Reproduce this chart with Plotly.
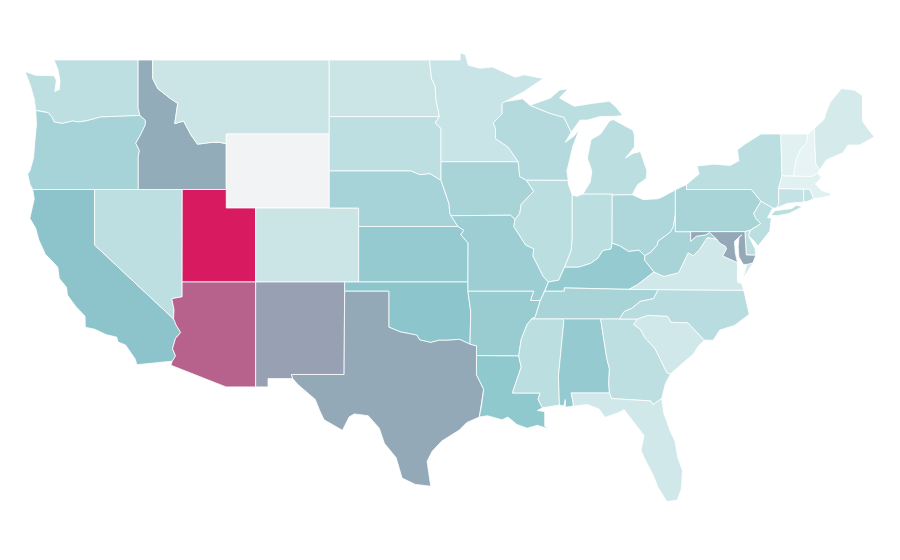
import plotly.graph_objects as go
from plotly.colors import sample_colorscale

states = ["WA","OR","CA","NV","ID","MT","WY","UT","CO","AZ","NM","ND","SD","NE","KS","OK","TX","MN","IA","MO",
          "AR","LA","WI","IL","IN","MI","OH","KY","TN","MS","AL","GA","FL","SC","NC","VA","WV","PA","NY","NJ",
          "DE","MD","CT","RI","MA","VT","NH","ME"]
values = [14,22,32,14,48,10,None,100,10,75,53,10,14,22,27,30,50,11,21,25,
          26,29,17,15,15,15,19,27,21,15,27,14,8,8,16,8,21,21,15,15,
          14,50,12,12,3,3,1,7]
missing_color = "#f2f3f5"

colorscale = [[0, "#eaf5f5"], [0.3, "#8cc6cc"], [0.5, "#94a9b8"], [1, "#d81b60"]]

# shared borders, lon/lat, estimated by hand
columbia = [(-124.0,46.27),(-123.4,46.2),(-123.15,46.15),(-122.9,45.9),(-122.75,45.65),(-122.2,45.57),(-121.5,45.7),(-121.1,45.65),(-120.5,45.72),(-119.6,45.92),(-119.0,45.93),(-116.92,46.0)]
snake = [(-116.92,46.0),(-116.55,45.75),(-116.55,45.5),(-116.85,45.0),(-117.2,44.5),(-116.95,44.1),(-117.03,43.8),(-117.03,42.0)]
colorado = [(-114.72,32.72),(-114.5,33.0),(-114.7,33.4),(-114.5,33.95),(-114.15,34.27),(-114.44,34.65),(-114.63,35.0)]
id_mt = [(-111.05,44.47),(-111.5,44.55),(-112.0,44.55),(-113.0,44.45),(-113.45,44.95),(-113.95,45.7),(-114.55,45.56),(-114.35,46.65),(-114.9,46.95),(-115.7,47.45),(-116.05,48.0),(-116.05,49.0)]
red_river = [(-94.48,33.64),(-95.2,33.9),(-96.0,33.85),(-96.6,33.85),(-97.15,33.73),(-97.9,33.87),(-98.1,34.13),(-99.2,34.3),(-100.0,34.56)]
tx_la = [(-93.85,29.7),(-93.7,30.3),(-93.55,31.2),(-94.04,31.99),(-94.04,33.02)]
ne_north = [(-104.05,43.0),(-98.5,43.0),(-97.9,42.8),(-97.2,42.85),(-96.45,42.49)]
mo_river_ne = [(-96.45,42.49),(-96.1,41.7),(-95.9,41.2),(-95.85,40.7),(-95.77,40.58)]
mo_river_ks = [(-95.77,40.58),(-95.3,40.0),(-94.9,39.8),(-95.1,39.55),(-94.61,39.11)]
mn_wi = [(-92.1,46.75),(-92.3,46.66),(-92.29,46.1),(-92.9,45.6),(-92.75,45.3),(-92.75,44.75),(-91.9,44.3),(-91.2,43.5)]
ia_east = [(-91.2,43.5),(-91.1,42.7),(-90.65,42.5),(-90.15,41.9),(-91.0,41.2),(-91.1,40.7),(-91.42,40.38)]
mo_east = [(-91.42,40.38),(-91.5,40.0),(-90.7,39.0),(-90.15,38.8),(-90.2,38.4),(-89.5,37.3),(-89.15,37.0)]
boot = [(-89.15,37.0),(-89.4,36.5),(-89.7,36.0)]
ar_ms = [(-90.05,35.1),(-90.3,35.0),(-90.6,34.7),(-91.0,33.9),(-91.17,33.0)]
ms_la = [(-91.17,33.0),(-91.0,32.4),(-91.6,31.0),(-89.73,31.0),(-89.85,30.65),(-89.55,30.2)]
ms_al = [(-88.1,34.9),(-88.47,31.9),(-88.4,30.35)]
al_ga = [(-85.6,35.0),(-85.18,32.87),(-85.0,32.3),(-85.05,31.55),(-85.0,31.0)]
fl_north = [(-85.0,31.0),(-84.86,30.7),(-82.2,30.57),(-82.05,30.37),(-81.45,30.7)]
ga_sc = [(-83.1,35.0),(-83.35,34.7),(-82.9,34.45),(-82.55,33.95),(-81.9,33.4),(-81.4,32.6),(-81.1,32.1),(-80.85,32.03)]
sc_nc = [(-83.1,35.0),(-82.4,35.2),(-81.05,35.15),(-80.8,34.82),(-79.67,34.8),(-78.55,33.86)]
tn_nc = [(-84.32,35.0),(-84.0,35.4),(-83.5,35.57),(-82.9,35.95),(-82.0,36.1),(-81.68,36.59)]
ky_va = [(-83.68,36.6),(-83.1,36.85),(-81.97,37.54)]
ky_wv = [(-81.97,37.54),(-82.6,38.17),(-82.6,38.42)]
ohio_ky = [(-82.6,38.42),(-83.0,38.72),(-83.7,38.65),(-84.3,38.95),(-84.82,39.1)]
ohio_in = [(-84.82,39.1),(-84.9,38.78),(-85.45,38.7),(-85.8,38.27),(-86.3,38.0),(-87.1,37.8),(-88.05,37.8)]
ohio_il = [(-88.05,37.8),(-88.45,37.1),(-89.15,37.0)]
wabash = [(-87.53,41.7),(-87.53,39.35),(-87.6,38.7),(-87.95,38.0),(-88.05,37.8)]
ohio_wv = [(-82.6,38.42),(-82.2,38.6),(-81.75,39.0),(-81.7,39.2),(-80.85,39.7),(-80.65,40.0),(-80.52,40.64)]
va_wv = [(-81.97,37.54),(-81.3,37.3),(-80.3,37.5),(-79.65,38.58),(-79.3,38.42),(-78.87,38.77),(-78.35,39.4),(-77.72,39.32)]
md_wv = [(-77.72,39.32),(-78.2,39.68),(-78.45,39.55),(-79.1,39.47),(-79.48,39.2),(-79.48,39.72)]
potomac = [(-76.3,38.05),(-77.0,38.3),(-77.3,38.4),(-77.04,38.79),(-77.12,38.93),(-77.5,39.1),(-77.72,39.32)]
delaware = [(-75.55,39.5),(-75.42,39.8),(-75.1,39.95),(-74.72,40.15),(-75.05,40.45),(-75.2,40.7),(-74.7,41.36)]
ct_ny = [(-73.66,41.0),(-73.49,41.2),(-73.5,42.05)]
vt_nh = [(-71.5,45.0),(-71.6,44.5),(-72.05,44.1),(-72.3,43.6),(-72.45,43.0),(-72.46,42.73)]
nh_me = [(-71.08,45.3),(-70.98,43.4),(-70.7,43.07)]

def rev(line):
    return line[::-1]

outlines = {
    "WA": [[(-122.76,49.0),(-117.04,49.0),(-117.04,46.42),(-116.92,46.0)] + rev(columbia) + [(-124.1,46.9),(-124.4,47.7),(-124.73,48.38),(-124.0,48.17),(-123.3,48.15),(-122.75,48.15),(-122.6,47.9),(-122.7,47.3),(-122.4,47.4),(-122.35,47.9),(-122.5,48.5)]],
    "OR": [columbia + snake[1:] + [(-124.21,42.0),(-124.4,42.3),(-124.55,42.84),(-124.4,43.0),(-124.15,43.7),(-124.05,44.7),(-123.95,45.5)]],
    "CA": [[(-124.21,42.0),(-120.0,42.0),(-120.0,39.0),(-114.63,35.0)] + rev(colorado) + [(-117.12,32.53),(-117.25,32.85),(-117.9,33.6),(-118.4,33.75),(-118.5,34.02),(-119.2,34.15),(-120.0,34.45),(-120.63,34.55),(-120.65,35.15),(-121.3,35.7),(-121.85,36.3),(-121.9,36.7),(-122.4,37.2),(-122.5,37.8),(-122.97,38.2),(-123.35,38.5),(-123.8,39.3),(-124.0,39.9),(-124.4,40.44),(-124.1,41.5)]],
    "NV": [[(-120.0,42.0),(-114.04,42.0),(-114.05,37.0),(-114.05,36.2),(-114.75,36.1),(-114.6,35.5),(-114.63,35.0),(-120.0,39.0)]],
    "ID": [[(-117.04,49.0),(-116.05,49.0)] + rev(id_mt)[1:] + [(-111.05,42.0),(-117.03,42.0)] + rev(snake)[1:] + [(-117.04,46.42)]],
    "MT": [[(-116.05,49.0),(-104.05,49.0),(-104.05,45.0),(-111.05,45.0)] + id_mt[:-1]],
    "WY": [[(-111.05,45.0),(-104.05,45.0),(-104.05,41.0),(-111.05,41.0)]],
    "UT": [[(-114.04,42.0),(-111.05,42.0),(-111.05,41.0),(-109.05,41.0),(-109.05,37.0),(-114.05,37.0)]],
    "CO": [[(-109.05,41.0),(-102.05,41.0),(-102.05,37.0),(-109.05,37.0)]],
    "AZ": [[(-114.05,37.0),(-109.05,37.0),(-109.05,31.33),(-111.07,31.33),(-114.81,32.5)] + colorado + [(-114.6,35.5),(-114.75,36.1),(-114.05,36.2)]],
    "NM": [[(-109.05,37.0),(-103.0,37.0),(-103.04,32.0),(-106.62,32.0),(-106.53,31.78),(-108.21,31.78),(-108.21,31.33),(-109.05,31.33)]],
    "ND": [[(-104.05,49.0),(-97.23,49.0),(-97.1,48.0),(-96.85,47.6),(-96.8,46.9),(-96.56,45.94),(-104.05,45.94)]],
    "SD": [[(-104.05,45.94),(-96.56,45.94),(-96.85,45.6),(-96.45,45.3),(-96.45,43.5)] + rev(ne_north)],
    "NE": [ne_north + mo_river_ne[1:] + [(-95.3,40.0),(-102.05,40.0),(-102.05,41.0),(-104.05,41.0)]],
    "KS": [[(-102.05,40.0),(-95.3,40.0)] + mo_river_ks[2:] + [(-94.62,37.0),(-102.05,37.0)]],
    "OK": [[(-103.0,37.0),(-94.62,37.0),(-94.62,36.5),(-94.43,35.4)] + red_river + [(-100.0,36.5),(-103.0,36.5)]],
    "TX": [[(-103.0,36.5),(-100.0,36.5)] + rev(red_river) + [(-94.04,33.55)] + rev(tx_la) + [(-94.7,29.4),(-95.2,29.0),(-96.4,28.4),(-97.05,27.85),(-97.4,27.3),(-97.15,25.96),(-98.2,26.06),(-99.1,26.4),(-99.5,27.5),(-100.3,28.28),(-100.65,29.1),(-101.4,29.77),(-102.35,29.87),(-102.7,29.7),(-103.15,28.98),(-104.4,29.55),(-104.7,30.05),(-105.0,30.65),(-106.2,31.47),(-106.53,31.78),(-106.62,32.0),(-103.04,32.0)]],
    "MN": [[(-97.23,49.0),(-95.15,49.0),(-95.15,49.38),(-94.8,49.3),(-94.6,48.72),(-93.8,48.55),(-92.95,48.62),(-92.0,48.3),(-91.4,48.07),(-90.8,48.2),(-89.5,48.0),(-90.8,47.3)] + mn_wi + [(-96.45,43.5),(-96.45,45.3),(-96.85,45.6),(-96.56,45.94),(-96.8,46.9),(-96.85,47.6),(-97.1,48.0)]],
    "IA": [[(-96.45,43.5)] + ia_east + [(-91.73,40.61),(-95.77,40.58)] + rev(mo_river_ne)[1:]],
    "MO": [[(-95.77,40.58),(-91.73,40.61)] + mo_east + boot[1:] + [(-90.37,36.0),(-90.15,36.5),(-94.62,36.5),(-94.62,37.0)] + rev(mo_river_ks)],
    "AR": [[(-94.62,36.5),(-90.15,36.5),(-90.37,36.0),(-89.7,36.0)] + ar_ms + [(-94.04,33.02),(-94.04,33.55),(-94.48,33.64),(-94.43,35.4)]],
    "LA": [[(-94.04,33.02)] + ms_la + [(-89.9,30.05),(-89.4,30.0),(-89.4,29.2),(-89.1,29.05),(-89.9,29.25),(-90.6,29.1),(-91.3,29.3),(-91.9,29.7),(-92.3,29.55),(-93.3,29.77)] + tx_la[:-1]],
    "WI": [[(-92.1,46.75),(-90.9,46.9),(-90.4,46.55),(-89.1,46.13),(-88.1,45.9),(-87.6,45.1),(-88.0,44.55),(-87.4,44.9),(-87.05,45.25),(-87.5,44.3),(-87.8,43.3),(-87.9,43.0),(-87.8,42.49),(-90.65,42.5),(-91.1,42.7),(-91.2,43.5)] + rev(mn_wi)[1:-1]],
    "IL": [[(-87.53,41.7),(-87.8,42.3),(-87.8,42.49),(-90.65,42.5)] + ia_east[3:] + mo_east[1:] + rev(ohio_il)[1:] + rev(wabash)[1:-1]],
    "IN": [[(-84.81,41.7),(-84.81,41.76),(-86.8,41.76),(-87.2,41.63)] + wabash + rev(ohio_in)[1:]],
    "MI": [[(-84.81,41.76),(-86.8,41.76),(-86.3,42.4),(-86.2,43.0),(-86.5,43.7),(-86.25,44.7),(-85.6,45.0),(-85.0,45.7),(-84.75,45.78),(-83.4,45.2),(-83.3,44.9),(-83.3,44.3),(-83.9,43.7),(-83.4,43.95),(-82.9,44.05),(-82.45,43.0),(-82.5,42.6),(-83.1,42.25),(-83.45,41.72),(-84.81,41.7)],
           [(-90.4,46.55),(-89.0,46.95),(-88.4,47.37),(-87.8,47.45),(-88.4,46.95),(-87.4,46.5),(-86.0,46.67),(-85.0,46.77),(-84.55,46.45),(-84.1,46.0),(-84.7,45.95),(-85.6,45.95),(-86.5,45.75),(-87.0,45.75),(-87.6,45.1),(-88.1,45.9),(-89.1,46.13)]],
    "OH": [[(-80.52,40.64),(-80.52,41.98),(-81.4,41.6),(-81.7,41.5),(-82.7,41.45),(-83.45,41.72),(-84.81,41.7)] + rev(ohio_ky) + ohio_wv[1:-1]],
    "KY": [[(-89.4,36.5),(-88.07,36.5),(-88.07,36.68)] + ky_va + ky_wv[1:] + ohio_ky[1:] + ohio_in[1:] + ohio_il[1:]],
    "TN": [[(-90.3,35.0),(-88.2,35.0),(-85.6,35.0)] + tn_nc + [(-83.68,36.6),(-88.07,36.68),(-88.07,36.5),(-89.4,36.5),(-89.7,36.0),(-90.05,35.1)]],
    "MS": [[(-90.3,35.0),(-88.2,35.0)] + ms_al + [(-89.55,30.2)] + rev(ms_la)[1:] + rev(ar_ms)[1:-1]],
    "AL": [[(-88.2,35.0)] + al_ga + [(-87.6,31.0),(-87.45,30.4),(-87.5,30.28),(-88.0,30.23),(-88.0,30.65),(-88.1,30.3)] + rev(ms_al)],
    "GA": [[(-85.6,35.0)] + ga_sc + [(-81.2,31.5)] + rev(fl_north) + rev(al_ga)[1:-1]],
    "FL": [[(-87.6,31.0)] + fl_north + [(-81.3,29.9),(-80.9,29.0),(-80.55,28.4),(-80.35,27.5),(-80.03,26.8),(-80.12,25.8),(-80.4,25.2),(-81.1,25.13),(-81.7,25.9),(-82.0,26.5),(-82.7,27.6),(-82.85,27.9),(-82.65,28.7),(-83.4,29.5),(-84.0,30.1),(-84.35,29.95),(-85.3,29.68),(-85.7,30.13),(-86.5,30.38),(-87.5,30.28),(-87.45,30.4)]],
    "SC": [sc_nc + [(-79.0,33.5),(-79.3,33.1),(-79.9,32.7)] + rev(ga_sc)[:-1]],
    "NC": [tn_nc + [(-75.87,36.55),(-75.5,35.25),(-76.5,34.65),(-77.5,34.4),(-77.95,33.85)] + rev(sc_nc)[:-1] + [(-83.1,35.0)]],
    "VA": [[(-83.68,36.6),(-81.68,36.59),(-75.87,36.55),(-76.0,36.9),(-76.3,37.0),(-76.3,37.6)] + potomac + rev(va_wv)[1:] + rev(ky_va)[1:-1],
           [(-75.25,38.03),(-75.65,37.95),(-75.95,37.15),(-75.6,37.6)]],
    "WV": [va_wv + md_wv[1:] + [(-80.52,39.72),(-80.52,40.64)] + rev(ohio_wv)[1:-1] + [(-82.6,38.42),(-82.6,38.17)]],
    "PA": [[(-80.52,39.72),(-75.79,39.72)] + delaware[1:] + [(-75.35,42.0),(-79.76,42.0),(-79.76,42.27),(-80.52,41.98),(-80.52,40.64)]],
    "NY": [[(-79.76,42.0),(-75.35,42.0),(-74.7,41.36),(-73.9,41.0)] + ct_ny + [(-73.27,42.75),(-73.35,45.0),(-74.7,45.0),(-75.8,44.45),(-76.3,44.15),(-76.2,43.55),(-76.8,43.3),(-77.9,43.37),(-79.05,43.27),(-78.9,42.85),(-79.76,42.27)],
           [(-74.03,40.6),(-73.75,40.85),(-72.6,40.97),(-72.3,41.15),(-71.87,41.07),(-72.8,40.7),(-73.6,40.58)]],
    "NJ": [delaware + [(-73.9,41.0),(-74.25,40.48),(-74.0,40.45),(-74.1,39.75),(-74.9,38.95),(-75.15,39.2)]],
    "DE": [[(-75.79,39.72),(-75.42,39.8),(-75.55,39.5),(-75.1,38.8),(-75.05,38.45),(-75.7,38.46)]],
    "MD": [[(-79.48,39.72),(-75.79,39.72),(-75.7,38.46),(-75.05,38.45),(-75.25,38.03),(-75.65,37.95),(-75.9,37.95),(-76.2,38.35),(-76.25,38.9),(-76.2,39.4),(-76.0,39.55),(-76.5,39.2),(-76.45,38.6)] + potomac + md_wv[1:-1]],
    "CT": [[(-73.5,42.05),(-71.8,42.02),(-71.8,41.32),(-72.9,41.25)] + ct_ny[:-1]],
    "RI": [[(-71.8,42.02),(-71.38,42.02),(-71.12,41.5),(-71.5,41.37),(-71.8,41.32)]],
    "MA": [[(-73.5,42.05),(-73.27,42.75),(-72.46,42.73),(-71.3,42.7),(-70.85,42.88),(-70.6,42.65),(-71.0,42.3),(-70.6,41.95),(-70.0,41.8),(-70.25,42.07),(-69.95,41.85),(-70.0,41.65),(-70.65,41.55),(-71.12,41.5),(-71.38,42.02),(-71.8,42.02)]],
    "VT": [[(-73.35,45.0)] + vt_nh + [(-73.27,42.75)]],
    "NH": [[(-71.5,45.0),(-71.08,45.3)] + nh_me[1:] + [(-70.85,42.88),(-71.3,42.7)] + rev(vt_nh)[:-1]],
    "ME": [nh_me[:1] + [(-70.4,45.8),(-70.25,46.2),(-70.0,46.7),(-69.23,47.46),(-68.33,47.36),(-67.8,47.07),(-67.8,45.7),(-67.45,45.3),(-67.0,44.85),(-68.0,44.4),(-68.8,44.4),(-69.1,44.0),(-69.8,43.75),(-70.25,43.6)] + rev(nh_me)],
}

fig = go.Figure()
for name, value in zip(states, values):
    lons, lats = [], []
    for r in outlines[name]:
        for lon, lat in r + r[:1]:
            lons.append(lon)
            lats.append(lat)
        lons.append(None)
        lats.append(None)
    color = missing_color if value is None else sample_colorscale(colorscale, value / 100)[0]
    fig.add_trace(go.Scatter(x=lons[:-1], y=lats[:-1], name=name, mode="lines", fill="toself",
                             fillcolor=color, line=dict(color="white", width=0.8), showlegend=False))

# the reference stretches lat against lon, plain axes do that
fig.update_xaxes(range=[-125.886, -64.706], visible=False)
fig.update_yaxes(range=[21.54, 51.81], visible=False)
fig.update_layout(width=900, height=560, margin=dict(l=0, r=0, t=0, b=0),
                  paper_bgcolor="white", plot_bgcolor="white")
fig.write_html("out.html")
